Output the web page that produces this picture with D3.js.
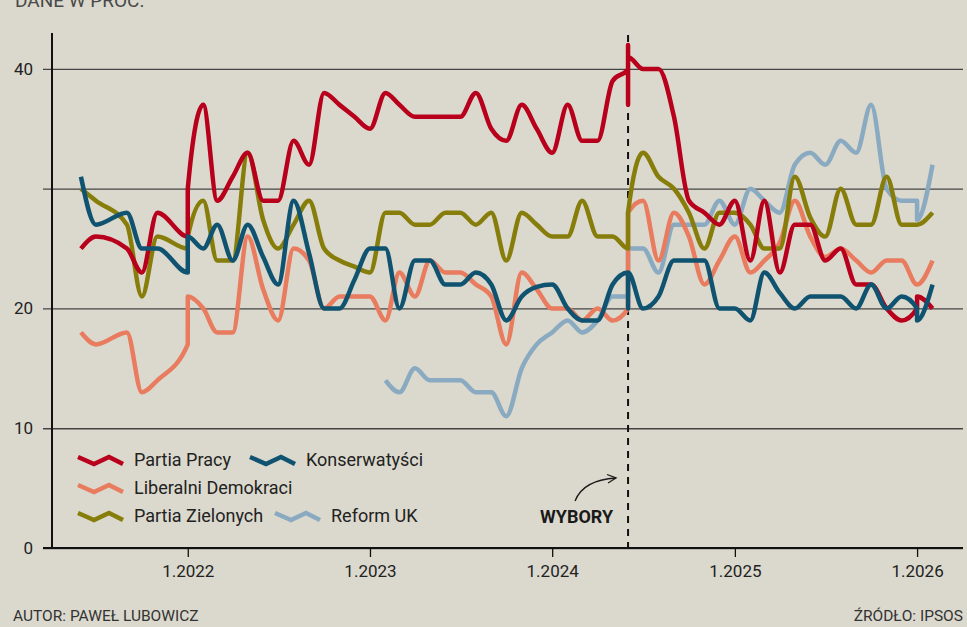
<!DOCTYPE html>
<html><head><meta charset="utf-8">
<script src="https://cdn.jsdelivr.net/npm/d3@7"></script>
<style>
html,body{margin:0;padding:0;background:#dbd9cd;}
svg{display:block;font-family:Roboto,"Noto Sans",sans-serif;}
</style></head><body>
<svg id="chart" width="967" height="627"></svg>
<script>
// ---- DATA ----
const dates = [
 "2021-06","2021-07","2021-09","2021-10","2021-11","2022-01","2022-01",
 "2022-02","2022-03","2022-04","2022-05","2022-06","2022-07","2022-08","2022-09","2022-10","2022-11","2022-12",
 "2023-01","2023-02","2023-03","2023-04","2023-05","2023-06","2023-07","2023-08","2023-09","2023-10","2023-11","2023-12",
 "2024-01","2024-02","2024-03","2024-04","2024-05","2024-06","2024-06","2024-06","2024-06",
 "2024-07","2024-08","2024-09","2024-10","2024-11","2024-12",
 "2025-01","2025-02","2025-03","2025-04","2025-05","2025-06","2025-07","2025-08","2025-09","2025-10","2025-11","2025-12",
 "2026-01","2026-01","2026-02"
];
const partiaPracy = [
 25,26,25,23,28,26,30,
 37,29,31,33,29,29,34,32,38,37,36,
 35,38,37,36,36,36,36,38,35,34,37,35,
 33,37,34,34,39,40,42,37,41,
 40,40,36,29,28,27,
 29,24,29,23,27,27,24,25,22,22,20,19,
 20,21,20
];
const konserwatysci = [
 31,27,28,25,25,23,26,
 25,27,24,27,24.3,22,29,24.6,20,20,22.4,
 25,25,20,24,24,22,22,23,22,19,21,21.8,
 22,20,19,19,22,23,20,23,23,
 20,21,24,24,24,20,
 20,19,23,21.3,20,21,21,21,20,22,20,21,
 20,19,22
];
const liberalniDemokraci = [
 18,17,18,13,14,17,21,
 20,18,18,26,21.6,19,25,24,20,21,21,
 21,19,23,21,24,23,23,22,21,17,23,21.6,
 20,20,19,20,19,20,28,28,28,
 29,24,28,26,22,24,
 26,23,24,25.5,29,26,24.3,25,24,23,24,24,
 22,22,24
];
const partiaZielonych = [
 30,29,27,21,26,25,26,
 29,24,24,33,27.4,25,27,29,25,24,23.5,
 23,28,28,27,27,28,28,27,28,24,28,27,
 26,26,29,26,26,25,28,28,28,
 33,31,30,28,25,28,
 28,27,25,25,31,27.6,26,30,27,27,31,27,
 27,27,28
];
const reformUK = [
 null,null,null,null,null,null,null,
 null,null,null,null,null,null,null,null,null,null,null,
 null,14,13,15,14,14,14,13,13,11,15,17,
 18,19,18,19,21,21,25,25,25,
 25,23,27,27,27,29,
 27,30,29,28,32,33,32,34,33,37,30,29,
 29,27.4,32
];
const seriesNames = ["Partia Pracy","Konserwatyści","Liberalni Demokraci","Partia Zielonych","Reform UK"];
const seriesColors = ["#b8001c","#0f5370","#e97b5f","#877d0a","#8aaac1"];
const yTickValues = [0,10,20,30,40];
const yTickLabels = ["0","10","20","","40"];
const xTickDates = ["2022-01","2023-01","2024-01","2025-01","2026-01"];
const xTickLabels = ["1.2022","1.2023","1.2024","1.2025","1.2026"];
const electionDate = "2024-06";
const electionLabel = "WYBORY";
const topNote = "DANE W PROC.";
const author = "AUTOR: PAWEŁ LUBOWICZ";
const source = "ŹRÓDŁO: IPSOS";

// ---- CHART ----
const W = 967, H = 627;
const margin = {left:52, right:4, top:33, bottom:79};
const parse = d3.timeParse("%Y-%m");
const svg = d3.select("#chart");
svg.append("rect").attr("width",W).attr("height",H).attr("fill","#dbd9cd");

const x = d3.scaleTime().domain([new Date(2021,3,4), new Date(2026,3,3)]).range([margin.left, W - margin.right]);
const y = d3.scaleLinear().domain([0,43]).range([H - margin.bottom, margin.top]);

// top note (cut off)
svg.append("text").attr("x",15).attr("y",7).attr("font-size",19).attr("fill","#4a4a4a").text(topNote);

// y grid + labels
const gy = svg.append("g").attr("transform",`translate(${margin.left-9},0)`)
  .call(d3.axisLeft(y).tickValues(yTickValues).tickSize(-(W - margin.right - margin.left + 9)).tickPadding(10)
    .tickFormat((d,i)=>yTickLabels[i]));
gy.select(".domain").remove();
gy.selectAll(".tick line").attr("stroke","#444").attr("stroke-width",1.3);
gy.selectAll(".tick text").attr("font-size",17).attr("fill","#222").attr("font-family","Roboto");

// election line
const ex = x(parse(electionDate));
svg.append("line").attr("x1",ex).attr("x2",ex).attr("y1",35).attr("y2",H - margin.bottom)
  .attr("stroke","#111").attr("stroke-width",2).attr("stroke-dasharray","7,6");

// series
const seriesValues = [partiaPracy, konserwatysci, liberalniDemokraci, partiaZielonych, reformUK];
const series = seriesNames.map((n,i)=>({name:n, color:seriesColors[i],
  data: dates.map((d,j)=>({date:parse(d), value:seriesValues[i][j]})).filter(d=>d.value!=null)}));
const line = d3.line().x(d=>x(d.date)).y(d=>y(d.value)).curve(d3.curveMonotoneX);
const drawOrder = [4,2,3,0,1];
svg.append("g").selectAll("path").data(drawOrder.map(i=>series[i])).join("path")
  .attr("d",d=>line(d.data)).attr("fill","none").attr("stroke",d=>d.color)
  .attr("stroke-width",4.5).attr("stroke-linejoin","round").attr("stroke-linecap","butt");

// y axis line
svg.append("line").attr("x1",margin.left).attr("x2",margin.left).attr("y1",margin.top).attr("y2",H - margin.bottom)
  .attr("stroke","#111").attr("stroke-width",2);

// x axis
const gx = svg.append("g").attr("transform",`translate(0,${H - margin.bottom})`)
  .call(d3.axisBottom(x).tickValues(xTickDates.map(parse)).tickSize(9).tickPadding(8)
    .tickFormat((d,i)=>xTickLabels[i]));
gx.select(".domain").remove();
gx.selectAll(".tick line").attr("stroke","#111").attr("stroke-width",1.3);
gx.selectAll(".tick text").attr("font-size",17).attr("fill","#222").attr("font-family","Roboto");
svg.append("line").attr("x1",margin.left-9).attr("x2",W - margin.right).attr("y1",H - margin.bottom).attr("y2",H - margin.bottom)
  .attr("stroke","#111").attr("stroke-width",2);

// election label + arrow
svg.append("text").attr("x",ex-15).attr("y",523).attr("text-anchor","end").attr("font-size",18)
  .attr("font-weight",700).attr("fill","#1a1a1a").text(electionLabel);
svg.append("path").attr("d",`M${ex-53},501 Q${ex-45},480 ${ex-12},478`).attr("fill","none").attr("stroke","#1a1a1a").attr("stroke-width",1.3);
svg.append("path").attr("d",`M${ex-21},474.5 L${ex-12},478 L${ex-20},483`).attr("fill","none").attr("stroke","#1a1a1a").attr("stroke-width",1.3);

// legend
const legendItems = [
  {i:0, x:78, y:466}, {i:1, x:250, y:466},
  {i:2, x:78, y:494},
  {i:3, x:78, y:522}, {i:4, x:275, y:522}
];
const icon = [[0,-9],[16,-2],[31,-9],[45,-2]];
const lg = svg.append("g");
legendItems.forEach(it=>{
  const s = series[it.i];
  lg.append("path").attr("d", d3.line()(icon.map(p=>[it.x+p[0], it.y+p[1]])))
    .attr("fill","none").attr("stroke",s.color).attr("stroke-width",4.5).attr("stroke-linejoin","miter");
  lg.append("text").attr("x",it.x+56).attr("y",it.y).attr("font-size",18).attr("fill","#222").text(s.name);
});

// footer
svg.append("text").attr("x",13).attr("y",621).attr("font-size",15.5).attr("fill","#333").text(author);
svg.append("text").attr("x",W-4).attr("y",621).attr("text-anchor","end").attr("font-size",15.5).attr("fill","#333").text(source);
</script>
</body></html>
